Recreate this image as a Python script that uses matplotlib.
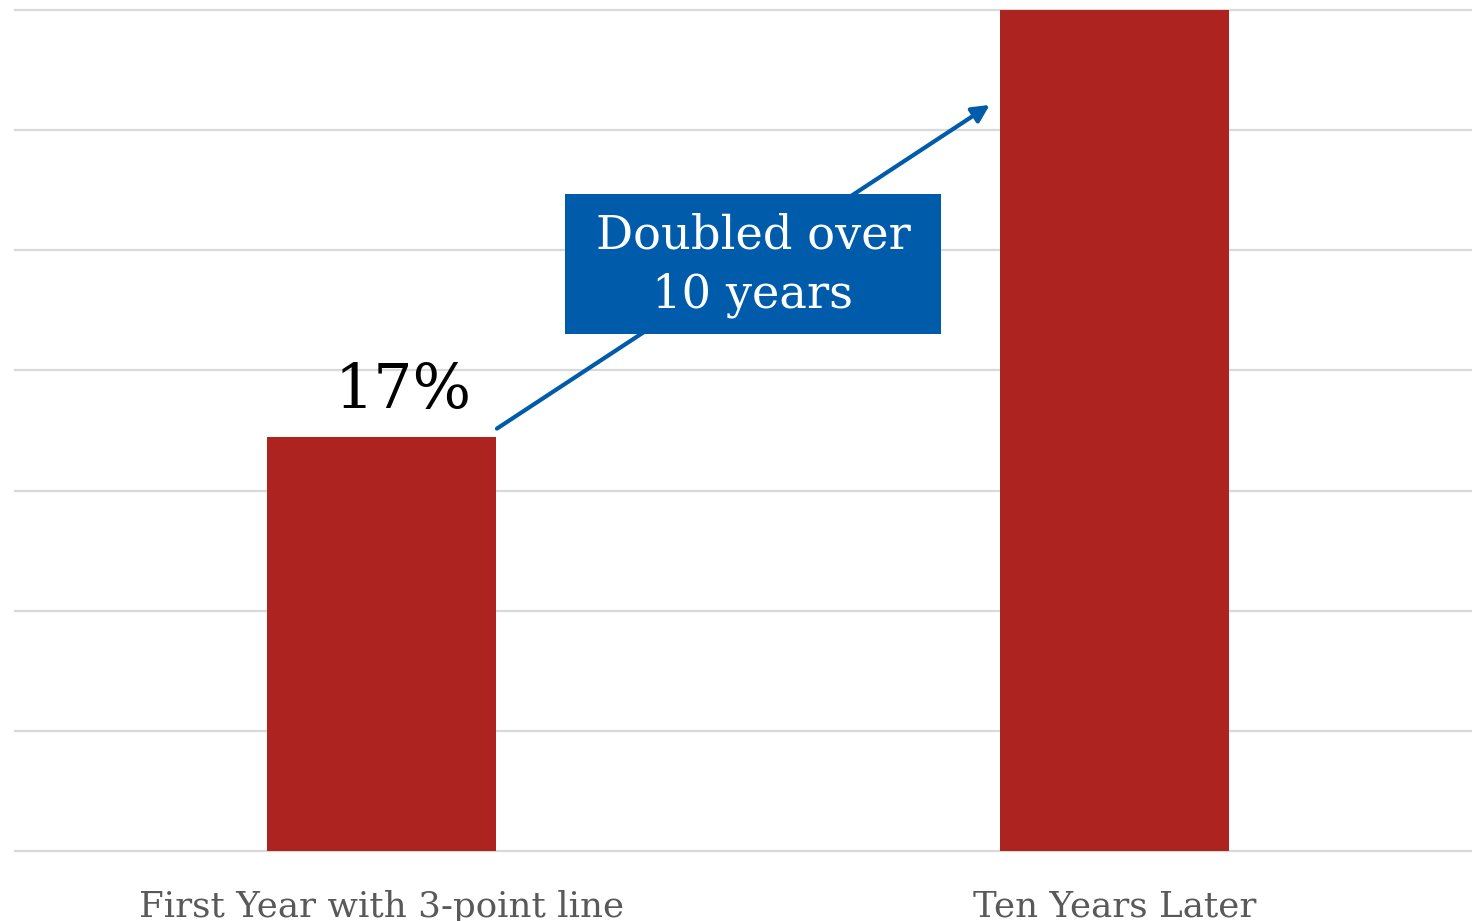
import matplotlib.pyplot as plt
from matplotlib.patches import Rectangle

categories = ['First Year with 3-point line', 'Ten Years Later']
values = [17.25, 35.0]
value_label = '17%'
callout_text = 'Doubled over\n10 years'

bar_color = '#AC2320'
blue = '#005BAA'
grid_color = '#D9D9D9'
serif = ['DejaVu Serif']

fig = plt.figure(figsize=(14.72, 9.21), dpi=100)
ax = fig.add_axes([15 / 1472, 70 / 921, 1 - 15 / 1472, 841 / 921])

x = range(len(categories))
ax.bar(x, values, width=0.3124, color=bar_color, zorder=2)

ax.set_xlim(-0.5, 1.488)
ax.set_ylim(0, 35)
ax.set_yticks(range(0, 36, 5))
ax.yaxis.grid(True, color=grid_color, linewidth=1.6, zorder=0)
for gl in ax.get_ygridlines():
    gl.set_clip_on(False)
ax.set_axisbelow(True)
for s in ax.spines.values():
    s.set_visible(False)
ax.tick_params(axis='y', length=0, labelleft=False)
ax.tick_params(axis='x', length=0, pad=28)
ax.set_xticks(list(x))
ax.set_xticklabels(categories, fontsize=25.7, color='#595959', family=serif)

# value label above the first bar
ax.text(0.03, 18.45, value_label, ha='center', va='baseline',
        fontsize=44.5, color='black', family=serif)

# arrow from first bar to second
ax.annotate('', xy=(0.8300, 31.05), xytext=(0.1576, 17.58),
            arrowprops=dict(arrowstyle='-|>', color=blue, lw=3,
                            mutation_scale=26, shrinkA=0, shrinkB=0),
            zorder=3)

# callout box
ax.add_patch(Rectangle((0.2503, 21.53), 0.7633 - 0.2503, 27.35 - 21.53,
                       facecolor=blue, edgecolor='none', zorder=4))
ax.text(0.5068, 24.36, callout_text, ha='center', va='center',
        fontsize=33.4, color='white', family=serif, linespacing=1.38, zorder=5)

fig.savefig('out.png', dpi=100)
